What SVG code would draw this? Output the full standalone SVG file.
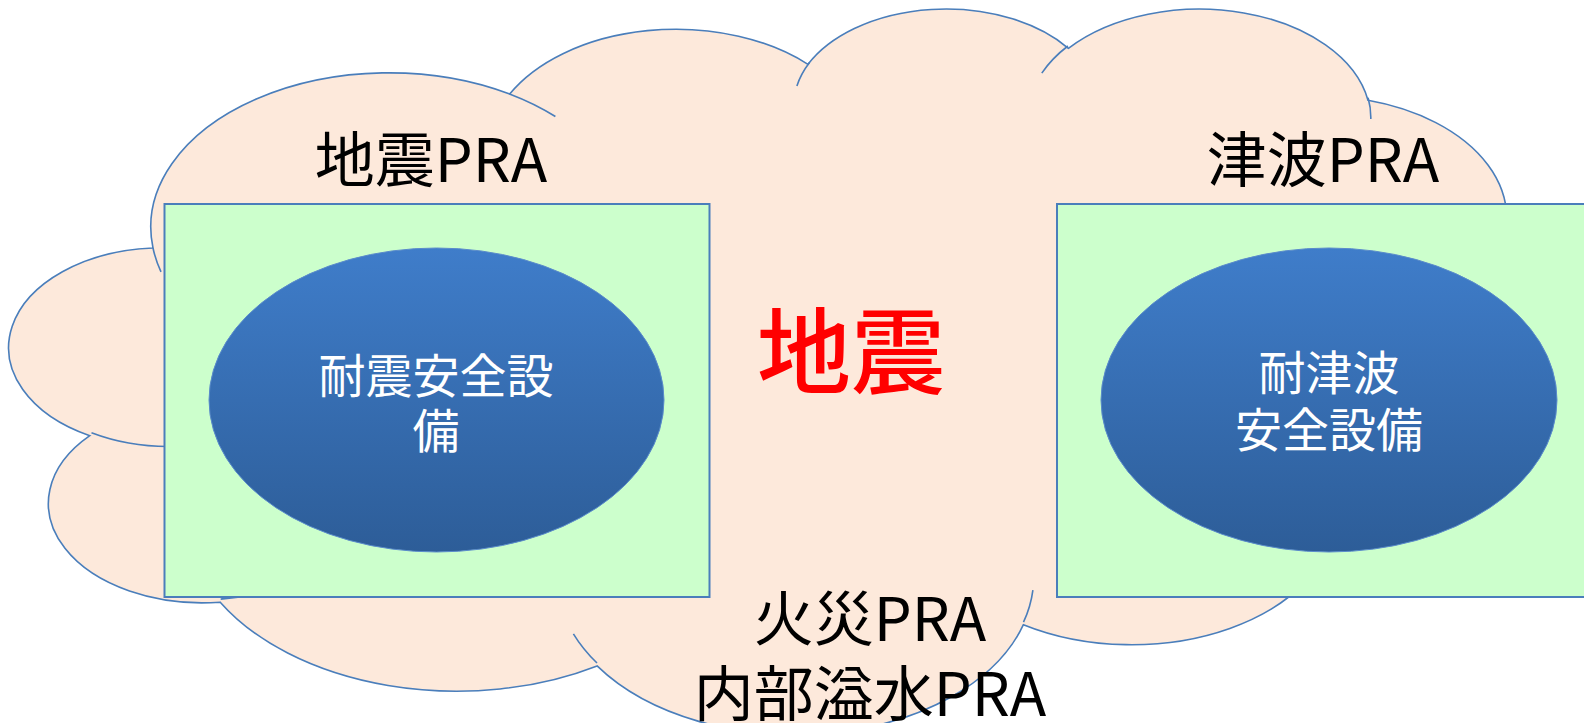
<svg xmlns="http://www.w3.org/2000/svg" width="1584" height="723" viewBox="0 0 1584 723">
  <defs>
    <linearGradient id="ellGrad" x1="0" y1="0" x2="0" y2="1">
      <stop offset="0" stop-color="#3F7DCA"/>
      <stop offset="1" stop-color="#2D5D98"/>
    </linearGradient>
    <style>
      .cloud { fill: #FDE9DB; stroke: #4A7EBB; stroke-width: 1.6; }
      .pucker { fill: none; stroke: #4A7EBB; stroke-width: 1.6; }
      .box { fill: #CCFFCC; stroke: #4A7EBB; stroke-width: 2; }
      .ell { fill: url(#ellGrad); stroke: #5A8BCB; stroke-width: 1; }
      .lbl { font-family: "Noto Sans CJK JP", "Noto Sans", sans-serif; font-size: 60px; fill: #000000; text-anchor: middle; }
      .inner { font-family: "Noto Sans CJK JP", "Noto Sans", sans-serif; font-size: 47px; fill: #FFFFFF; text-anchor: middle; }
      .big { font-family: "Noto Sans CJK JP", sans-serif; font-size: 94px; font-weight: 500; fill: #FF0000; text-anchor: middle; }
    </style>
  </defs>

  <g id="cloud">
    <path class="cloud" d="M153.0,248.0 A238.38,154.30 0 0 1 509.7,94.0 A188.25,122.01 0 0 1 808.0,64.3 A154.08,99.82 0 0 1 1068.4,48.3 A171.45,110.73 0 0 1 1368.0,100.3 A188.25,122.11 0 0 1 1491.5,266.2 A239.16,154.80 0 0 1 1335.7,513.7 A204.21,132.09 0 0 1 1023.4,624.7 A238.35,154.72 0 0 1 597.1,665.9 A272.52,177.02 0 0 1 220.2,602.2 A153.91,99.36 0 0 1 89.8,435.7 A153.38,99.82 0 0 1 153.0,248.0 Z"/>
    <path class="pucker" d="M181.0,446.2 A153.38,99.82 0 0 1 91.5,432.8 M259.9,592.7 A153.91,99.36 0 0 1 220.7,599.1 M597.0,663.0 A238.35,154.72 0 0 1 573.4,633.8 M1032.9,590.2 A238.35,154.72 0 0 1 1023.5,622.2 M1220.1,392.1 A204.21,132.09 0 0 1 1334.8,511.9 M1490.8,264.5 A188.25,122.11 0 0 1 1439.7,309.4 M1368.1,97.8 A171.45,110.73 0 0 1 1370.8,119.0 M1041.8,73.1 A171.45,110.73 0 0 1 1067.9,46.0 M796.9,86.0 A154.08,99.82 0 0 1 809.5,62.6 M509.5,93.9 A238.38,154.30 0 0 1 555.4,116.5 M161.0,271.8 A238.38,154.30 0 0 1 153.0,248.0"/>
    <text class="big" x="851" y="387">地震</text>
    <text class="lbl" x="870" y="641">火災PRA</text>
    <text class="lbl" x="870" y="716">内部溢水PRA</text>
  </g>

  <g id="seismic-pra">
    <text class="lbl" x="431" y="182">地震PRA</text>
    <rect class="box" x="164.5" y="204" width="545" height="393"/>
    <g id="seismic-equipment">
      <ellipse class="ell" cx="436.5" cy="400" rx="227.5" ry="152"/>
      <text class="inner" x="436" y="393">耐震安全設</text>
      <text class="inner" x="436" y="448">備</text>
    </g>
  </g>

  <g id="tsunami-pra">
    <text class="lbl" x="1323" y="182">津波PRA</text>
    <rect class="box" x="1057" y="204" width="545" height="393"/>
    <g id="tsunami-equipment">
      <ellipse class="ell" cx="1329" cy="400" rx="228" ry="152"/>
      <text class="inner" x="1329" y="390">耐津波</text>
      <text class="inner" x="1329" y="447">安全設備</text>
    </g>
  </g>

  <g id="connectors"/>
</svg>
